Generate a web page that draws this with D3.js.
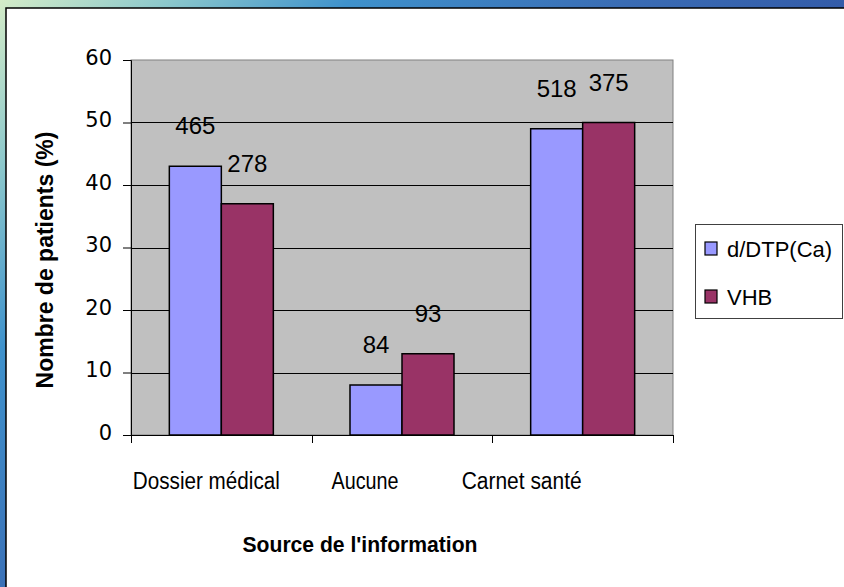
<!DOCTYPE html>
<html>
<head>
<meta charset="utf-8">
<script src="https://cdn.jsdelivr.net/npm/d3@7"></script>
<style>
  html, body { margin: 0; padding: 0; background: #fff; }
  svg { display: block; }
</style>
</head>
<body>
<svg id="chart" width="844" height="587"></svg>
<script>
// ---- data ----
const categories = ["Dossier médical", "Aucune", "Carnet santé"];
const series = ["d/DTP(Ca)", "VHB"];
const valuesDTP = [43, 8, 49];      // % of patients
const valuesVHB = [37, 13, 50];     // % of patients
const countsDTP = [465, 84, 518];   // data labels
const countsVHB = [278, 93, 375];   // data labels
const yTicks = [0, 10, 20, 30, 40, 50, 60];
const xTitle = "Source de l'information";
const yTitle = "Nombre de patients (%)";

// ---- layout ----
const W = 844, H = 587;
const plot = { left: 131, right: 673, top: 60, bottom: 435 };
const catLabelShift = [-15, -37, -61];
const catLabelWidth = [147, 67, 120];
const colors = ["#9999ff", "#993366"];

const svg = d3.select("#chart");

// background
const defs = svg.append("defs");
const grad = defs.append("linearGradient").attr("id", "bg")
  .attr("gradientUnits", "userSpaceOnUse")
  .attr("x1", 0).attr("y1", 0).attr("x2", 700).attr("y2", 700);
[[0, "#d4ecc8"], [0.12, "#8cc8cc"], [0.25, "#3f92cc"], [0.45, "#3a6cb4"], [0.7, "#2f52a2"], [1, "#2a469a"]]
  .forEach(([o, c]) => grad.append("stop").attr("offset", o).attr("stop-color", c));
svg.append("rect").attr("width", W).attr("height", H).attr("fill", "url(#bg)");
svg.append("rect").attr("x", 6).attr("y", 8).attr("width", W).attr("height", H)
  .attr("fill", "#fff").attr("stroke", "#000").attr("stroke-width", 1.5);

// scales
const y = d3.scaleLinear().domain([0, 60]).range([plot.bottom, plot.top]);
const x0 = d3.scaleBand().domain(categories).range([plot.left, plot.right]);
const groupW = 104;
const x1 = d3.scaleBand().domain(series)
  .range([(x0.bandwidth() - groupW) / 2, (x0.bandwidth() + groupW) / 2]);

// plot area
svg.append("rect")
  .attr("x", plot.left).attr("y", plot.top)
  .attr("width", plot.right - plot.left).attr("height", plot.bottom - plot.top)
  .attr("fill", "#c0c0c0").attr("stroke", "#808080").attr("stroke-width", 1);

// gridlines
svg.append("g").selectAll("line").data(yTicks.filter(t => t > 0 && t < 60)).join("line")
  .attr("x1", plot.left).attr("x2", plot.right)
  .attr("y1", d => Math.round(y(d)) + 0.5).attr("y2", d => Math.round(y(d)) + 0.5)
  .attr("stroke", "#000").attr("stroke-width", 1);

// bars
const rows = categories.map((c, i) => ({ cat: c, vals: [
  { s: series[0], v: valuesDTP[i], n: countsDTP[i], ci: 0 },
  { s: series[1], v: valuesVHB[i], n: countsVHB[i], ci: 1 }
]}));

const g = svg.append("g");
const grp = g.selectAll("g").data(rows).join("g")
  .attr("transform", d => `translate(${x0(d.cat)},0)`);
grp.selectAll("rect").data(d => d.vals).join("rect")
  .attr("x", d => x1(d.s)).attr("width", x1.bandwidth())
  .attr("y", d => y(d.v)).attr("height", d => y(0) - y(d.v))
  .attr("fill", d => colors[d.ci]).attr("stroke", "#000").attr("stroke-width", 1.5);
grp.selectAll("text").data(d => d.vals).join("text")
  .attr("x", d => x1(d.s) + x1.bandwidth() / 2)
  .attr("y", d => y(d.v) - 32)
  .attr("text-anchor", "middle")
  .attr("font-family", "Liberation Sans, Arial, sans-serif")
  .attr("font-size", 24).attr("fill", "#000")
  .text(d => d.n);

// y axis
const yAxis = svg.append("g").attr("transform", `translate(${plot.left},0)`)
  .call(d3.axisLeft(y).tickValues(yTicks).tickSize(8).tickPadding(11).tickFormat(d3.format("d")));
yAxis.select(".domain").attr("stroke", "#000").attr("stroke-width", 1);
yAxis.selectAll(".tick line").attr("stroke", "#000");
yAxis.selectAll(".tick text")
  .attr("font-family", "DejaVu Sans, sans-serif").attr("font-size", 21)
  .attr("fill", "#000").attr("dy", "0.2em");

// x axis line and boundary ticks
svg.append("line").attr("x1", plot.left).attr("x2", plot.right)
  .attr("y1", plot.bottom + 0.5).attr("y2", plot.bottom + 0.5)
  .attr("stroke", "#000").attr("stroke-width", 1);
const bounds = categories.map(c => x0(c)).concat([x0.range()[1]]);
svg.append("g").selectAll("line").data(bounds).join("line")
  .attr("x1", d => Math.round(d) + 0.5).attr("x2", d => Math.round(d) + 0.5)
  .attr("y1", plot.bottom).attr("y2", plot.bottom + 8)
  .attr("stroke", "#000");

// category labels
svg.append("g").selectAll("text").data(categories).join("text")
  .attr("x", (d, i) => x0(d) + x0.bandwidth() / 2 + catLabelShift[i])
  .attr("y", 489)
  .attr("text-anchor", "middle")
  .attr("font-family", "Liberation Sans, Arial, sans-serif")
  .attr("font-size", 23).attr("fill", "#000")
  .attr("textLength", (d, i) => catLabelWidth[i])
  .attr("lengthAdjust", "spacingAndGlyphs")
  .text(d => d);

// axis titles
svg.append("text").attr("x", 360).attr("y", 552).attr("text-anchor", "middle")
  .attr("font-family", "Liberation Sans, Arial, sans-serif")
  .attr("font-size", 22).attr("font-weight", "bold")
  .attr("textLength", 235).attr("lengthAdjust", "spacingAndGlyphs")
  .text(xTitle);
svg.append("text").attr("transform", "translate(53,260) rotate(-90)")
  .attr("text-anchor", "middle")
  .attr("font-family", "Liberation Sans, Arial, sans-serif")
  .attr("font-size", 23).attr("font-weight", "bold").text(yTitle);

// legend
const lg = svg.append("g");
lg.append("rect").attr("x", 695.5).attr("y", 224.5).attr("width", 147).attr("height", 94)
  .attr("fill", "#fff").attr("stroke", "#404040").attr("stroke-width", 1);
const items = lg.selectAll("g").data(series).join("g")
  .attr("transform", (d, i) => `translate(0,${i * 48})`);
items.append("rect").attr("x", 705).attr("y", 242).attr("width", 12).attr("height", 13)
  .attr("fill", (d, i) => colors[i]).attr("stroke", "#000").attr("stroke-width", 1.2);
items.append("text").attr("x", 727).attr("y", 257)
  .attr("font-family", "Liberation Sans, Arial, sans-serif")
  .attr("font-size", 22).attr("fill", "#000").text(d => d);
</script>
</body>
</html>
